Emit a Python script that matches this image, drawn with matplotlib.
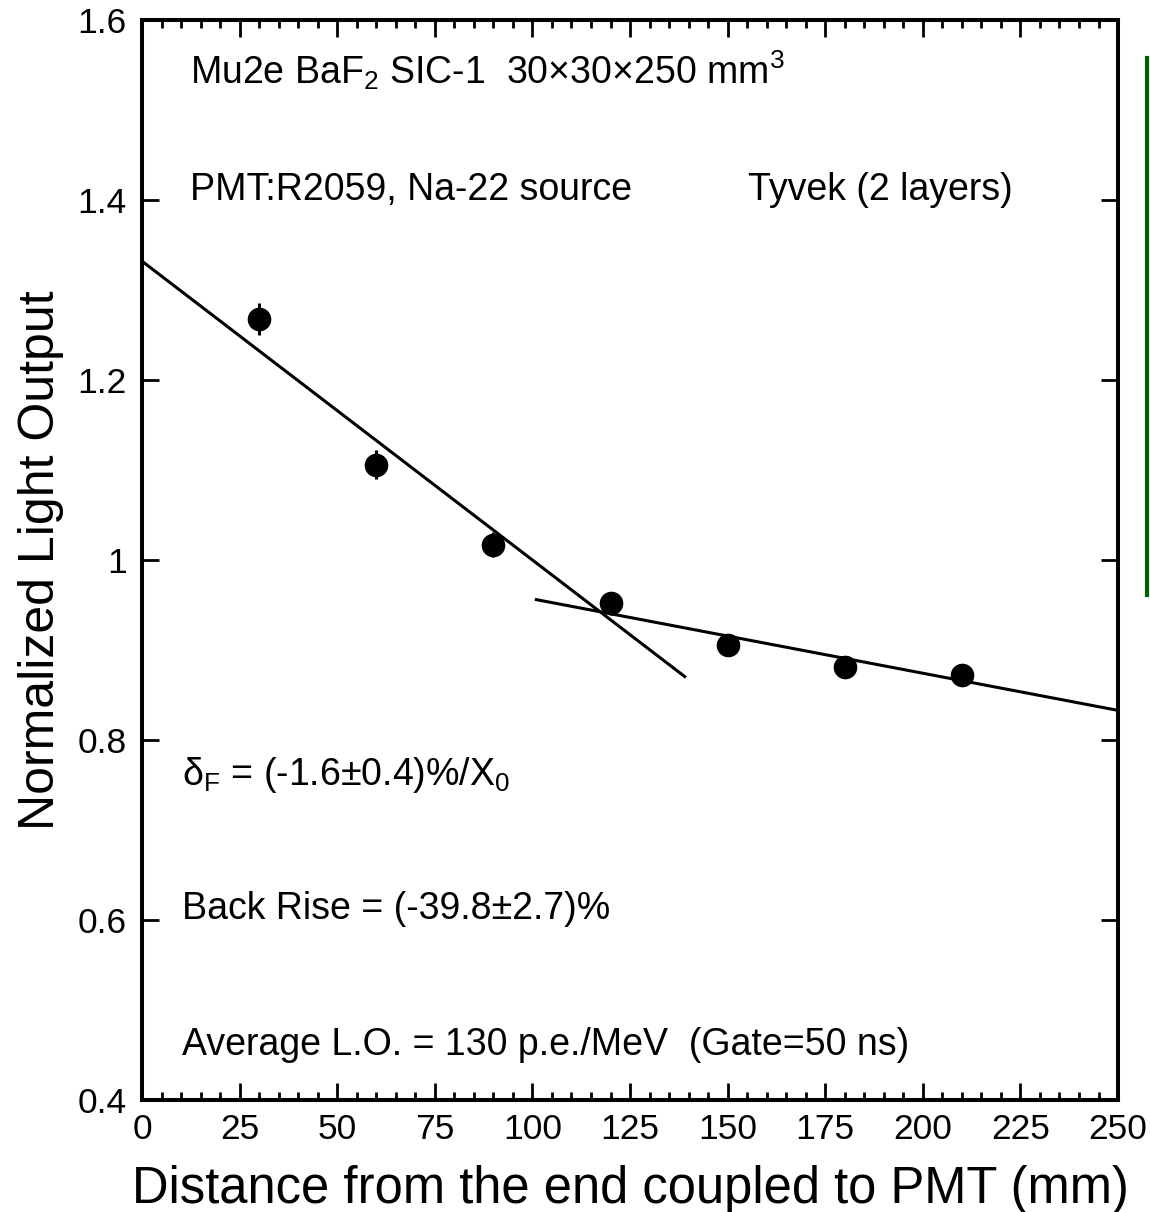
import matplotlib.pyplot as plt
import numpy as np
from matplotlib.lines import Line2D
from matplotlib.ticker import MultipleLocator

plt.rcParams['font.family'] = ['Liberation Sans', 'DejaVu Sans']
plt.rcParams['mathtext.fontset'] = 'custom'
plt.rcParams['mathtext.rm'] = 'Liberation Sans'
plt.rcParams['mathtext.it'] = 'Liberation Sans'
plt.rcParams['mathtext.default'] = 'regular'

# light output vs distance from PMT end
dist = np.array([30, 60, 90, 120, 150, 180, 210])
lo = np.array([1.268, 1.106, 1.017, 0.952, 0.906, 0.881, 0.872])
lo_err = np.array([0.018, 0.016, 0.014, 0.013, 0.012, 0.011, 0.011])

# linear fits: (intercept, slope, x range)
front_fit = (1.332, -0.00332, (0, 139))
back_fit = (1.0394, -0.000826, (101, 250))

fig = plt.figure(figsize=(11.5, 12.12), dpi=100)
ax = fig.add_axes([0.1235, 0.0924, 0.8487, 0.8911])

ax.errorbar(dist, lo, yerr=lo_err, fmt='o', color='black', ms=16,
            elinewidth=2.2, capsize=0, zorder=3)

for b, m, (x0, x1) in [front_fit, back_fit]:
    xx = np.array([x0, x1])
    ax.plot(xx, b + m * xx, color='black', lw=2.2)

ax.set_xlim(0, 250)
ax.set_ylim(0.4, 1.6)
ax.xaxis.set_major_locator(MultipleLocator(25))
ax.xaxis.set_minor_locator(MultipleLocator(5))
ax.set_yticks([0.4, 0.6, 0.8, 1.0, 1.2, 1.4, 1.6])
ax.set_yticklabels(['0.4', '0.6', '0.8', '1', '1.2', '1.4', '1.6'])

ax.tick_params(which='both', direction='in', top=True, right=True,
               labelsize=25.5, width=2)
ax.tick_params(which='major', length=12)
ax.tick_params(which='minor', length=6)
ax.tick_params(axis='x', pad=9)
ax.tick_params(axis='y', pad=11)
for s in ax.spines.values():
    s.set_linewidth(2.9)

ax.set_xlabel('Distance from the end coupled to PMT (mm)', fontsize=36.5, labelpad=14)
ax.set_ylabel('Normalized Light Output', fontsize=36, labelpad=10)

fs = 27
ax.text(0.049, 0.9407, r'Mu2e BaF$_2$ SIC-1  30$\times$30$\times$250 mm$^3$',
        transform=ax.transAxes, fontsize=fs, va='baseline')
ax.text(0.049, 0.8333, 'PMT:R2059, Na-22 source', transform=ax.transAxes,
        fontsize=fs, va='baseline')
ax.text(0.621, 0.8333, 'Tyvek (2 layers)', transform=ax.transAxes,
        fontsize=fs, va='baseline')
ax.text(0.041, 0.2917, r'$\delta_F$ = (-1.6±0.4)%/X$_0$', transform=ax.transAxes,
        fontsize=fs, va='baseline')
ax.text(0.041, 0.1676, 'Back Rise = (-39.8±2.7)%', transform=ax.transAxes,
        fontsize=fs, va='baseline')
ax.text(0.041, 0.0417, 'Average L.O. = 130 p.e./MeV  (Gate=50 ns)',
        transform=ax.transAxes, fontsize=fs, va='baseline')

# green rule at the right edge of the page
fig.add_artist(Line2D([0.9974, 0.9974], [0.952, 0.509], color='#006000',
                      lw=3, transform=fig.transFigure))

fig.savefig('out.png', dpi=100)
